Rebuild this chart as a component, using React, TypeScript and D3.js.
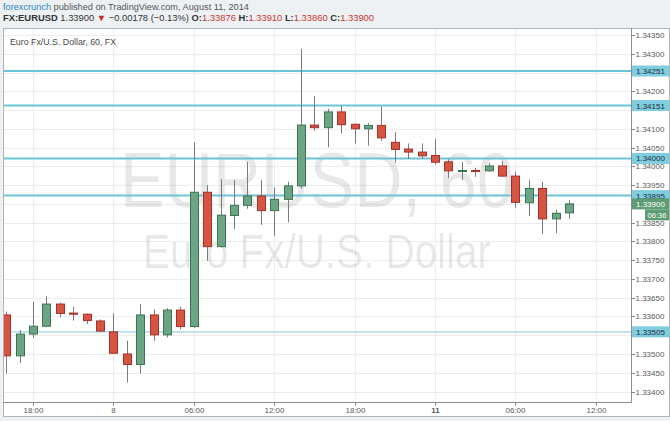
import React, { useEffect, useRef } from 'react';
import * as d3 from 'd3';

// EUR/USD hourly bars, index 0 = Aug 7 18:00 (weekend gap collapsed)
const barTimes = [
  'Aug 07 16:00', 'Aug 07 17:00', 'Aug 07 18:00', 'Aug 07 19:00', 'Aug 07 20:00', 'Aug 07 21:00',
  'Aug 07 22:00', 'Aug 07 23:00', 'Aug 08 00:00', 'Aug 08 01:00', 'Aug 08 02:00', 'Aug 08 03:00',
  'Aug 08 04:00', 'Aug 08 05:00', 'Aug 08 06:00', 'Aug 08 07:00', 'Aug 08 08:00', 'Aug 08 09:00',
  'Aug 08 10:00', 'Aug 08 11:00', 'Aug 08 12:00', 'Aug 08 13:00', 'Aug 08 14:00', 'Aug 08 15:00',
  'Aug 08 16:00', 'Aug 08 17:00', 'Aug 08 18:00', 'Aug 08 19:00', 'Aug 08 20:00', 'Aug 10 21:00',
  'Aug 10 22:00', 'Aug 10 23:00', 'Aug 11 00:00', 'Aug 11 01:00', 'Aug 11 02:00', 'Aug 11 03:00',
  'Aug 11 04:00', 'Aug 11 05:00', 'Aug 11 06:00', 'Aug 11 07:00', 'Aug 11 08:00', 'Aug 11 09:00',
  'Aug 11 10:00',
];
const firstBarIndex = -2;

const opens = [
  1.33604, 1.33495, 1.33553, 1.33574, 1.33633, 1.33609, 1.33606, 1.33588, 1.33559, 1.33500,
  1.33472, 1.33604, 1.33551, 1.33617, 1.33573, 1.33931, 1.33786, 1.33869, 1.33896, 1.33921,
  1.33882, 1.33912, 1.33948, 1.34110, 1.34103, 1.34145, 1.34112, 1.34100, 1.34109, 1.34064,
  1.34046, 1.34038, 1.34029, 1.34012, 1.33987, 1.33989, 1.33988, 1.34001, 1.33974, 1.33903,
  1.33941, 1.33860, 1.33876,
];
const highs = [
  1.33613, 1.33564, 1.33639, 1.33654, 1.33637, 1.33626, 1.33608, 1.33592, 1.33608, 1.33535,
  1.33633, 1.33619, 1.33622, 1.33626, 1.34064, 1.33950, 1.33966, 1.33964, 1.34012, 1.33964,
  1.33944, 1.33959, 1.34313, 1.34187, 1.34153, 1.34162, 1.34114, 1.34115, 1.34159, 1.34091,
  1.34061, 1.34061, 1.34073, 1.34019, 1.34012, 1.33996, 1.34010, 1.34014, 1.33986, 1.33964,
  1.33959, 1.33885, 1.33910,
];
const lows = [
  1.33448, 1.33476, 1.33543, 1.33572, 1.33598, 1.33589, 1.33580, 1.33559, 1.33500, 1.33424,
  1.33448, 1.33535, 1.33544, 1.33566, 1.33570, 1.33748, 1.33784, 1.33833, 1.33887, 1.33844,
  1.33815, 1.33851, 1.33941, 1.34095, 1.34051, 1.34088, 1.34061, 1.34055, 1.34068, 1.34010,
  1.34020, 1.34020, 1.34005, 1.33968, 1.33964, 1.33972, 1.33986, 1.33972, 1.33890, 1.33868,
  1.33820, 1.33822, 1.33860,
];
const closes = [
  1.33495, 1.33553, 1.33574, 1.33633, 1.33608, 1.33606, 1.33589, 1.33561, 1.33502, 1.33472,
  1.33604, 1.33551, 1.33617, 1.33573, 1.33931, 1.33786, 1.33870, 1.33896, 1.33921, 1.33882,
  1.33912, 1.33948, 1.34110, 1.34103, 1.34145, 1.34111, 1.34100, 1.34109, 1.34076, 1.34045,
  1.34038, 1.34028, 1.34011, 1.33988, 1.33989, 1.33987, 1.34001, 1.33974, 1.33904, 1.33941,
  1.33860, 1.33875, 1.33900,
];

const yTickLabels = [
  '1.33400', '1.33450', '1.33500', '1.33550', '1.33600', '1.33650', '1.33700', '1.33750',
  '1.33800', '1.33850', '1.33900', '1.33950', '1.34000', '1.34050', '1.34100', '1.34150',
  '1.34200', '1.34250', '1.34300', '1.34350',
];
const xTickIndex = [0, 6, 12, 18, 24, 30, 36, 42];
const xTickLabels = ['18:00', '8', '06:00', '12:00', '18:00', '11', '06:00', '12:00'];

// horizontal lines drawn on the chart (where they sit, and what their tags say)
const levelPrices = [1.34254, 1.34162, 1.34021, 1.33922, 1.33559];
const levelLabels = ['1.34251', '1.34151', '1.34000', '1.33895', '1.33505'];

const lastPrice = 1.339;
const lastLabel = '1.33900';
const countdown = '06:36';

const FONT = "'Liberation Sans', Arial, sans-serif";

export default function App() {
  const ref = useRef<SVGSVGElement>(null);

  useEffect(() => {
    if (!ref.current) return;
    const svg = d3.select(ref.current);
    svg.selectAll('*').remove();

    const W = 670, H = 421;
    const plot = { left: 3, right: 631, top: 28, bottom: 402 };
    const frame = { right: 669, bottom: 416 };

    const x = d3.scaleLinear().domain([-2.24, 44.63]).range([plot.left, plot.right]);
    const y = d3.scaleLinear().domain([1.334, 1.3435]).range([391.5, 35]);

    // background
    svg.append('rect').attr('width', W).attr('height', H).attr('fill', '#eef1f4');
    svg.append('rect')
      .attr('x', plot.left + 0.5).attr('y', plot.top + 0.5)
      .attr('width', frame.right - plot.left).attr('height', frame.bottom - plot.top)
      .attr('fill', '#fff').attr('stroke', '#b4b4b4');

    // header
    const h1 = svg.append('text').attr('x', 3).attr('y', 9.5)
      .attr('font-family', FONT).attr('font-size', 9.2);
    h1.append('tspan').attr('fill', '#2b87c3').text('forexcrunch');
    h1.append('tspan').attr('fill', '#555').text(' published on TradingView.com, August 11, 2014');

    const h2 = svg.append('text').attr('x', 3).attr('y', 20.5)
      .attr('font-family', FONT).attr('font-size', 9.4).attr('fill', '#333');
    h2.append('tspan').attr('font-weight', 'bold').text('FX:EURUSD');
    h2.append('tspan').text(' 1.33900 ');
    h2.append('tspan').attr('fill', '#c8231c').text('▼');
    h2.append('tspan').text(' −0.00178 (−0.13%) ');
    const ohlc = [['O:', '1.33876'], ['H:', '1.33910'], ['L:', '1.33860'], ['C:', '1.33900']];
    ohlc.forEach(([k, v], i) => {
      h2.append('tspan').attr('font-weight', 'bold').text((i ? ' ' : '') + k);
      h2.append('tspan').attr('fill', '#c8362c').text(v);
    });

    // grid
    const yTicks = yTickLabels.map(Number);
    svg.append('g').selectAll('line').data(yTicks).enter().append('line')
      .attr('x1', plot.left + 1).attr('x2', plot.right)
      .attr('y1', d => Math.round(y(d)) + 0.5).attr('y2', d => Math.round(y(d)) + 0.5)
      .attr('stroke', '#ededed');
    svg.append('g').selectAll('line').data(xTickIndex).enter().append('line')
      .attr('x1', d => Math.round(x(d)) + 0.5).attr('x2', d => Math.round(x(d)) + 0.5)
      .attr('y1', plot.top + 1).attr('y2', plot.bottom)
      .attr('stroke', '#ededed');

    // watermark
    const cx = (plot.left + plot.right) / 2;
    svg.append('text').attr('x', cx).attr('y', 207).attr('text-anchor', 'middle')
      .attr('font-family', FONT).attr('font-size', 78).attr('fill', '#000').attr('fill-opacity', 0.09)
      .attr('textLength', 394).attr('lengthAdjust', 'spacingAndGlyphs')
      .text('EURUSD, 60');
    svg.append('text').attr('x', cx).attr('y', 268).attr('text-anchor', 'middle')
      .attr('font-family', FONT).attr('font-size', 48).attr('fill', '#000').attr('fill-opacity', 0.09)
      .attr('textLength', 348).attr('lengthAdjust', 'spacingAndGlyphs')
      .text('Euro Fx/U.S. Dollar');

    // title
    svg.append('text').attr('x', 10).attr('y', 44.5)
      .attr('font-family', FONT).attr('font-size', 8.8).attr('fill', '#4a4a4a')
      .text('Euro Fx/U.S. Dollar, 60, FX');

    // candles
    svg.append('clipPath').attr('id', 'plotclip').append('rect')
      .attr('x', plot.left + 1).attr('y', plot.top + 1)
      .attr('width', plot.right - plot.left - 1).attr('height', plot.bottom - plot.top - 1);

    const bars = barTimes.map((t, i) => ({
      t, i: i + firstBarIndex, o: opens[i], h: highs[i], l: lows[i], c: closes[i],
    }));
    const bw = 8;
    const cg = svg.append('g').attr('clip-path', 'url(#plotclip)');

    // levels
    levelPrices.forEach((p, k) => {
      const last = k === levelPrices.length - 1;
      cg.append('line')
        .attr('x1', plot.left).attr('x2', plot.right)
        .attr('y1', y(p)).attr('y2', y(p))
        .attr('stroke', last ? '#9dd6e4' : '#6cc4d8')
        .attr('stroke-width', last ? 1.2 : 2);
    });

    const cand = cg.selectAll('g.c').data(bars).enter().append('g').attr('class', 'c');
    cand.append('line')
      .attr('x1', d => Math.round(x(d.i)) + 0.5).attr('x2', d => Math.round(x(d.i)) + 0.5)
      .attr('y1', d => y(d.h)).attr('y2', d => y(d.l))
      .attr('stroke', '#7a7a7a').attr('stroke-width', 1);
    cand.append('rect')
      .attr('x', d => Math.round(x(d.i)) - bw / 2 + 0.5)
      .attr('y', d => y(Math.max(d.o, d.c)))
      .attr('width', bw)
      .attr('height', d => Math.max(1, y(Math.min(d.o, d.c)) - y(Math.max(d.o, d.c))))
      .attr('fill', d => (d.c >= d.o ? '#6ba583' : '#d75442'))
      .attr('stroke', d => (d.c >= d.o ? '#3c7352' : '#a0332a'))
      .attr('stroke-width', 1);

    // plot borders
    svg.append('line').attr('x1', plot.right + 0.5).attr('x2', plot.right + 0.5)
      .attr('y1', plot.top).attr('y2', plot.bottom + 0.5).attr('stroke', '#8c8c8c');
    svg.append('line').attr('x1', plot.left).attr('x2', plot.right + 0.5)
      .attr('y1', plot.bottom + 0.5).attr('y2', plot.bottom + 0.5).attr('stroke', '#8c8c8c');

    // right axis; labels that sit under a tag are hidden by it
    const tagYs = [...levelPrices.map(p => y(p)), y(lastPrice), y(lastPrice) + 11];
    const ya = svg.append('g');
    yTicks.forEach((v, k) => {
      const yy = Math.round(y(v)) + 0.5;
      ya.append('line').attr('x1', plot.right).attr('x2', plot.right + 4)
        .attr('y1', yy).attr('y2', yy).attr('stroke', '#8c8c8c');
      if (tagYs.some(t => Math.abs(t - yy) < 7.5)) return;
      ya.append('text').attr('x', plot.right + 4.5).attr('y', yy + 2.8)
        .attr('font-family', FONT).attr('font-size', 8).attr('fill', '#5a5a5a')
        .text(yTickLabels[k]);
    });

    const tag = (p: number, label: string, fill: string, color: string, x0: number) => {
      const yy = y(p);
      svg.append('rect').attr('x', x0).attr('y', yy - 5.5).attr('width', frame.right - x0).attr('height', 11)
        .attr('fill', fill);
      svg.append('text').attr('x', x0 + 4).attr('y', yy + 3)
        .attr('font-family', FONT).attr('font-size', 8).attr('fill', color).text(label);
    };
    levelPrices.forEach((p, k) => tag(p, levelLabels[k], '#7fcde0', '#1d2b30', plot.right + 1));
    tag(lastPrice, lastLabel, '#5e9c74', '#fff', plot.right + 1);
    // countdown box under the last price
    const cy = y(lastPrice) + 11;
    svg.append('rect').attr('x', 645).attr('y', cy - 5.5).attr('width', frame.right - 645).attr('height', 11)
      .attr('fill', '#5e9c74');
    svg.append('text').attr('x', 657).attr('y', cy + 3).attr('text-anchor', 'middle')
      .attr('font-family', FONT).attr('font-size', 7.6).attr('fill', '#fff').text(countdown);

    // bottom axis
    const xa = svg.append('g');
    xTickIndex.forEach((v, k) => {
      const xx = Math.round(x(v)) + 0.5;
      xa.append('line').attr('x1', xx).attr('x2', xx)
        .attr('y1', plot.bottom).attr('y2', plot.bottom + 4).attr('stroke', '#8c8c8c');
      xa.append('text').attr('x', xx).attr('y', 412.5).attr('text-anchor', 'middle')
        .attr('font-family', FONT).attr('font-size', 8).attr('fill', '#5a5a5a')
        .attr('font-weight', xTickLabels[k] === '11' ? 'bold' : 'normal')
        .text(xTickLabels[k]);
    });
  }, []);

  return (
    <svg
      ref={ref}
      width={670}
      height={421}
      style={{ position: 'absolute', left: 0, top: 0, display: 'block' }}
    />
  );
}
